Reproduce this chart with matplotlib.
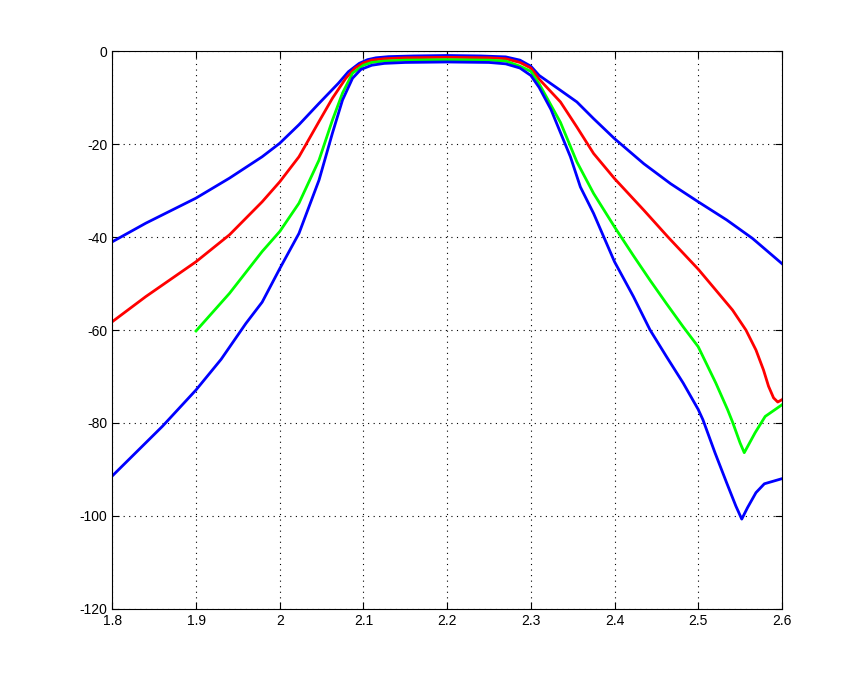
import matplotlib
matplotlib.use("Agg")
import matplotlib.pyplot as plt
from matplotlib.ticker import FormatStrFormatter

plt.rcParams["font.family"] = ["Liberation Sans", "DejaVu Sans"]
plt.rcParams["axes.unicode_minus"] = False

# frequency (GHz) / response (dB)
blue_wide_x = [1.8, 1.84, 1.9, 1.94, 1.979, 2.0, 2.023, 2.047, 2.07, 2.082, 2.095, 2.105, 2.115,
               2.13, 2.16, 2.2, 2.24, 2.27, 2.287, 2.3, 2.31, 2.3354, 2.355, 2.375, 2.4, 2.435,
               2.467, 2.5, 2.534, 2.565, 2.6]
blue_wide_y = [-41.0, -37.0, -31.6, -27.3, -22.7, -19.8, -15.8, -11.2, -6.9, -4.4, -2.6, -1.8,
               -1.4, -1.15, -1.0, -0.9, -1.0, -1.2, -1.9, -3.2, -5.2, -8.4, -10.9, -14.5, -18.8,
               -24.2, -28.5, -32.4, -36.3, -40.3, -45.7]

red_x = [1.8, 1.84, 1.9, 1.94, 1.979, 2.0, 2.023, 2.047, 2.063, 2.079, 2.09, 2.1, 2.11, 2.125,
         2.15, 2.2, 2.25, 2.27, 2.287, 2.3, 2.31, 2.3354, 2.355, 2.375, 2.4, 2.435, 2.464, 2.5,
         2.521, 2.541, 2.557, 2.569, 2.578, 2.584, 2.59, 2.595, 2.6]
red_y = [-58.2, -52.8, -45.3, -39.5, -32.4, -28.1, -22.7, -15.1, -10.1, -5.8, -3.6, -2.5, -1.9,
         -1.6, -1.4, -1.3, -1.4, -1.6, -2.4, -3.6, -6.0, -10.9, -16.3, -22.0, -27.4, -34.2,
         -40.0, -46.9, -51.4, -55.7, -60.0, -64.3, -68.6, -72.1, -74.6, -75.5, -75.0]

green_x = [1.9, 1.94, 1.979, 2.0, 2.023, 2.047, 2.063, 2.075, 2.087, 2.1, 2.11, 2.125, 2.15, 2.2,
           2.25, 2.27, 2.287, 2.3, 2.31, 2.3354, 2.355, 2.375, 2.4, 2.4226, 2.4425, 2.462,
           2.482, 2.5, 2.521, 2.535, 2.541, 2.55, 2.555, 2.568, 2.58, 2.6]
green_y = [-60.2, -52.1, -43.1, -38.8, -32.7, -23.4, -14.8, -9.0, -4.7, -3.0, -2.4, -2.1, -1.9,
           -1.8, -1.9, -2.1, -3.2, -4.3, -7.0, -15.3, -23.8, -30.6, -37.8, -44.0, -49.3, -54.3,
           -59.3, -63.6, -71.4, -77.1, -79.8, -84.3, -86.4, -82.1, -78.6, -76.1]

blue_narrow_x = [1.8, 1.86, 1.9, 1.93, 1.9595, 1.979, 2.0, 2.023, 2.047, 2.063, 2.075, 2.087,
                 2.097, 2.11, 2.125, 2.15, 2.2, 2.25, 2.27, 2.287, 2.3, 2.31, 2.324, 2.3354,
                 2.3473, 2.3592, 2.375, 2.387, 2.4, 2.4226, 2.4425, 2.462, 2.482, 2.5, 2.5056,
                 2.52, 2.534, 2.545, 2.552, 2.559, 2.569, 2.579, 2.6]
blue_narrow_y = [-91.4, -80.7, -72.9, -66.3, -58.6, -54.0, -46.8, -39.2, -27.7, -17.6, -10.5,
                 -5.8, -3.9, -3.0, -2.6, -2.4, -2.3, -2.4, -2.7, -3.6, -5.2, -7.8, -12.5, -17.5,
                 -22.7, -29.2, -34.9, -39.9, -45.3, -52.8, -60.0, -65.7, -71.4, -77.1, -79.3,
                 -86.4, -92.9, -97.9, -100.7, -98.2, -95.0, -93.1, -92.0]

fig = plt.figure(figsize=(8.64, 6.84), dpi=100)
ax = fig.add_axes([0.13, 0.11, 0.775, 0.815])

ax.plot(blue_wide_x, blue_wide_y, color=(0, 0, 1), lw=2)
ax.plot(red_x, red_y, color=(1, 0, 0), lw=2)
ax.plot(green_x, green_y, color=(0, 1, 0), lw=2)
ax.plot(blue_narrow_x, blue_narrow_y, color=(0, 0, 1), lw=2)

ax.set_xlim(1.8, 2.6)
ax.set_ylim(-120, 0)
ax.set_xticks([1.8, 1.9, 2.0, 2.1, 2.2, 2.3, 2.4, 2.5, 2.6])
ax.set_yticks(range(-120, 1, 20))
ax.xaxis.set_major_formatter(FormatStrFormatter("%g"))
ax.grid(True, color="black", linestyle=(0, (1, 4)), linewidth=0.8)
ax.tick_params(direction="in", top=True, right=True, length=5, labelsize=10)
for s in ax.spines.values():
    s.set_linewidth(0.8)

fig.savefig("out.png", dpi=100)
